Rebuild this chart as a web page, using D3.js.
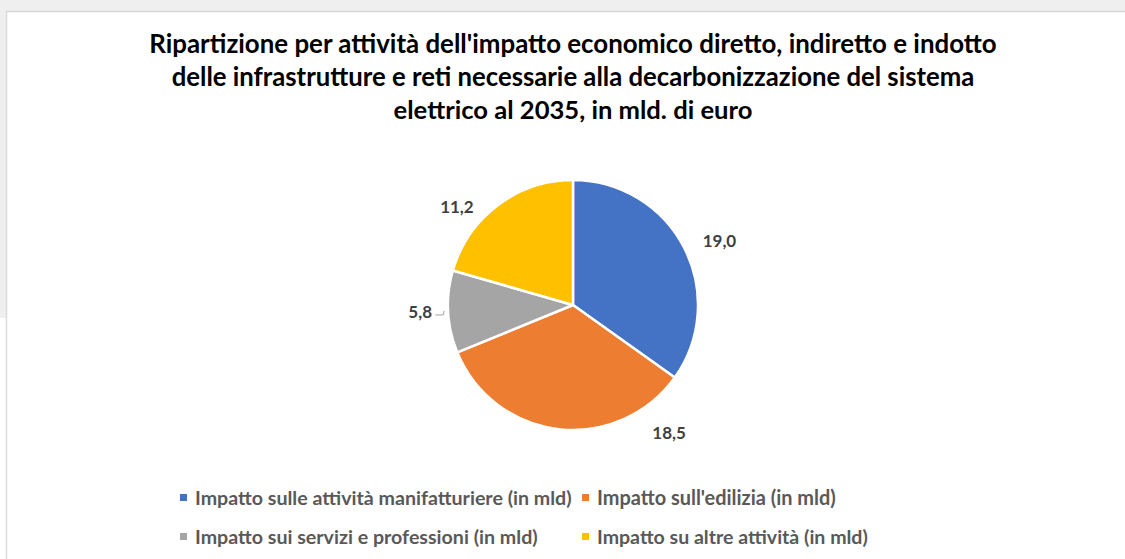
<!DOCTYPE html>
<html>
<head>
<meta charset="utf-8">
<script src="https://cdn.jsdelivr.net/npm/d3@7"></script>
<style>
  html, body { margin: 0; padding: 0; background: #ffffff; }
  svg { display: block; }
</style>
</head>
<body>
<svg id="chart" width="1125" height="559"></svg>
<script>
// Chart data
const categories = [
  "Impatto sulle attività manifatturiere (in mld)",
  "Impatto sull'edilizia (in mld)",
  "Impatto sui servizi e professioni (in mld)",
  "Impatto su altre attività (in mld)"
];
const values = [19.0, 18.5, 5.8, 11.2];
const valueLabels = ["19,0", "18,5", "5,8", "11,2"];
const colors = ["#4472C4", "#ED7D31", "#A5A5A5", "#FFC000"];
const titleLines = [
  "Ripartizione per attività dell'impatto economico diretto, indiretto e indotto",
  "delle infrastrutture e reti necessarie alla decarbonizzazione del sistema",
  "elettrico al 2035, in mld. di euro"
];

const W = 1125, H = 559;
const svg = d3.select("#chart");

// Surrounding frame: grey margin at top and left, thin border around the chart area
svg.append("rect").attr("x", 0).attr("y", 0).attr("width", W).attr("height", 11).attr("fill", "#efefef");
svg.append("rect").attr("x", 0).attr("y", 0).attr("width", 6).attr("height", 318).attr("fill", "#efefef");
svg.append("line").attr("x1", 6).attr("x2", W).attr("y1", 11.5).attr("y2", 11.5)
  .attr("stroke", "#d6d6d6").attr("stroke-width", 1.5);
svg.append("line").attr("x1", 6.5).attr("x2", 6.5).attr("y1", 11).attr("y2", H)
  .attr("stroke", "#dcdcdc").attr("stroke-width", 1.5);

// Title, each line fitted to its width
const titleFont = "Lato, 'Open Sans', sans-serif";
const titleWidths = [848, 803, 359];
const titleG = svg.append("g");
titleLines.forEach((t, i) => {
  const txt = titleG.append("text")
    .attr("x", 573).attr("y", 53 + i * 33)
    .attr("text-anchor", "middle")
    .attr("font-family", titleFont)
    .attr("font-weight", 700)
    .attr("font-size", 21)
    .attr("fill", "#000000")
    .text(t);
  const w = txt.node().getComputedTextLength();
  txt.attr("font-size", 21 * titleWidths[i] / w);
});

// Pie
const cx = 573, cy = 305, R = 125;
const pie = d3.pie().sort(null).value(d => d)
  .startAngle(0).endAngle(2 * Math.PI);
const arcs = pie(values);
const arc = d3.arc().innerRadius(0).outerRadius(R);

const pieG = svg.append("g").attr("transform", `translate(${cx},${cy})`);
pieG.selectAll("path")
  .data(arcs)
  .join("path")
  .attr("d", arc)
  .attr("fill", (d, i) => colors[i])
  .attr("stroke", "#ffffff")
  .attr("stroke-width", 2.5)
  .attr("stroke-linejoin", "round");

// Data labels: placed outside each slice (angle shift and radius per slice)
const labelAngleShift = [3.5, -43.5, 0.5, -12.8];   // degrees
const labelRadius = [160, 160, 153, 152];
const labelG = svg.append("g").attr("transform", `translate(${cx},${cy})`);
arcs.forEach((d, i) => {
  const a = (d.startAngle + d.endAngle) / 2 + labelAngleShift[i] * Math.PI / 180;
  const x = Math.sin(a) * labelRadius[i];
  const y = -Math.cos(a) * labelRadius[i];
  labelG.append("text")
    .attr("x", x).attr("y", y)
    .attr("dy", "0.35em")
    .attr("text-anchor", "middle")
    .attr("font-family", titleFont)
    .attr("font-weight", 700)
    .attr("font-size", 17)
    .attr("fill", "#404040")
    .text(valueLabels[i]);
});

// Leader line for the small grey slice
{
  const d = arcs[2];
  const a = (d.startAngle + d.endAngle) / 2;
  const ex = Math.sin(a) * (R + 2), ey = -Math.cos(a) * (R + 2);
  labelG.append("path")
    .attr("d", `M${ex - 11},${ey + 3} L${ex - 3},${ey + 3} L${ex - 2},${ey - 1}`)
    .attr("fill", "none")
    .attr("stroke", "#a6a6a6")
    .attr("stroke-width", 1);
}

// Legend, two columns by two rows
const legendX = [180, 582];
const legendY = [498, 537];
const legendWidths = [377, 239, 343, 271];
const legendG = svg.append("g");
categories.forEach((c, i) => {
  const col = i % 2, row = Math.floor(i / 2);
  const g = legendG.append("g").attr("transform", `translate(${legendX[col]},${legendY[row]})`);
  g.append("rect").attr("x", 0).attr("y", -4).attr("width", 7).attr("height", 7).attr("fill", colors[i]);
  const txt = g.append("text")
    .attr("x", 15).attr("y", 0)
    .attr("dy", "0.35em")
    .attr("font-family", titleFont)
    .attr("font-weight", 700)
    .attr("font-size", 16)
    .attr("fill", "#595959")
    .text(c);
  const w = txt.node().getComputedTextLength();
  txt.attr("font-size", 16 * legendWidths[i] / w);
});
</script>
</body>
</html>
